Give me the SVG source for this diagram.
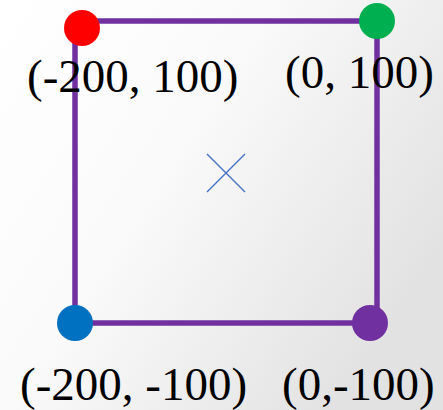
<svg xmlns="http://www.w3.org/2000/svg" width="443" height="410" viewBox="0 0 443 410">
<defs>
<linearGradient id="bg" x1="0" y1="0" x2="1" y2="0.6">
<stop offset="0" stop-color="#ffffff"/>
<stop offset="0.45" stop-color="#fafafa"/>
<stop offset="1" stop-color="#e2e2e2"/>
</linearGradient>
</defs>
<style>
.edge{fill:none;stroke:#7030A0;stroke-width:5.5}
.lbl{font-family:"Liberation Serif","Times New Roman",serif;font-size:47px;fill:#000}
.x{stroke:#4472C4;stroke-width:1.4}
</style>
<rect width="443" height="410" fill="url(#bg)"/>
<g id="connectors">
<rect class="edge" x="75" y="21" width="302" height="302"/>
</g>
<g id="center"><path class="x" d="M207,154 L245,192 M245,154 L207,192"/></g>
<g id="p1"><circle cx="82" cy="28" r="18" fill="#FF0000"/></g>
<g id="p2"><circle cx="377" cy="21" r="18" fill="#00B050"/></g>
<g id="p3"><circle cx="75" cy="323" r="18" fill="#0070C0"/></g>
<g id="p4"><circle cx="370" cy="323" r="18" fill="#7030A0"/></g>
<g id="l1"><text class="lbl" x="27" y="92">(-200, 100)</text></g>
<g id="l2"><text class="lbl" x="285" y="88">(0, 100)</text></g>
<g id="l3"><text class="lbl" x="20" y="400">(-200, -100)</text></g>
<g id="l4"><text class="lbl" x="282" y="400">(0,-100)</text></g>
</svg>
